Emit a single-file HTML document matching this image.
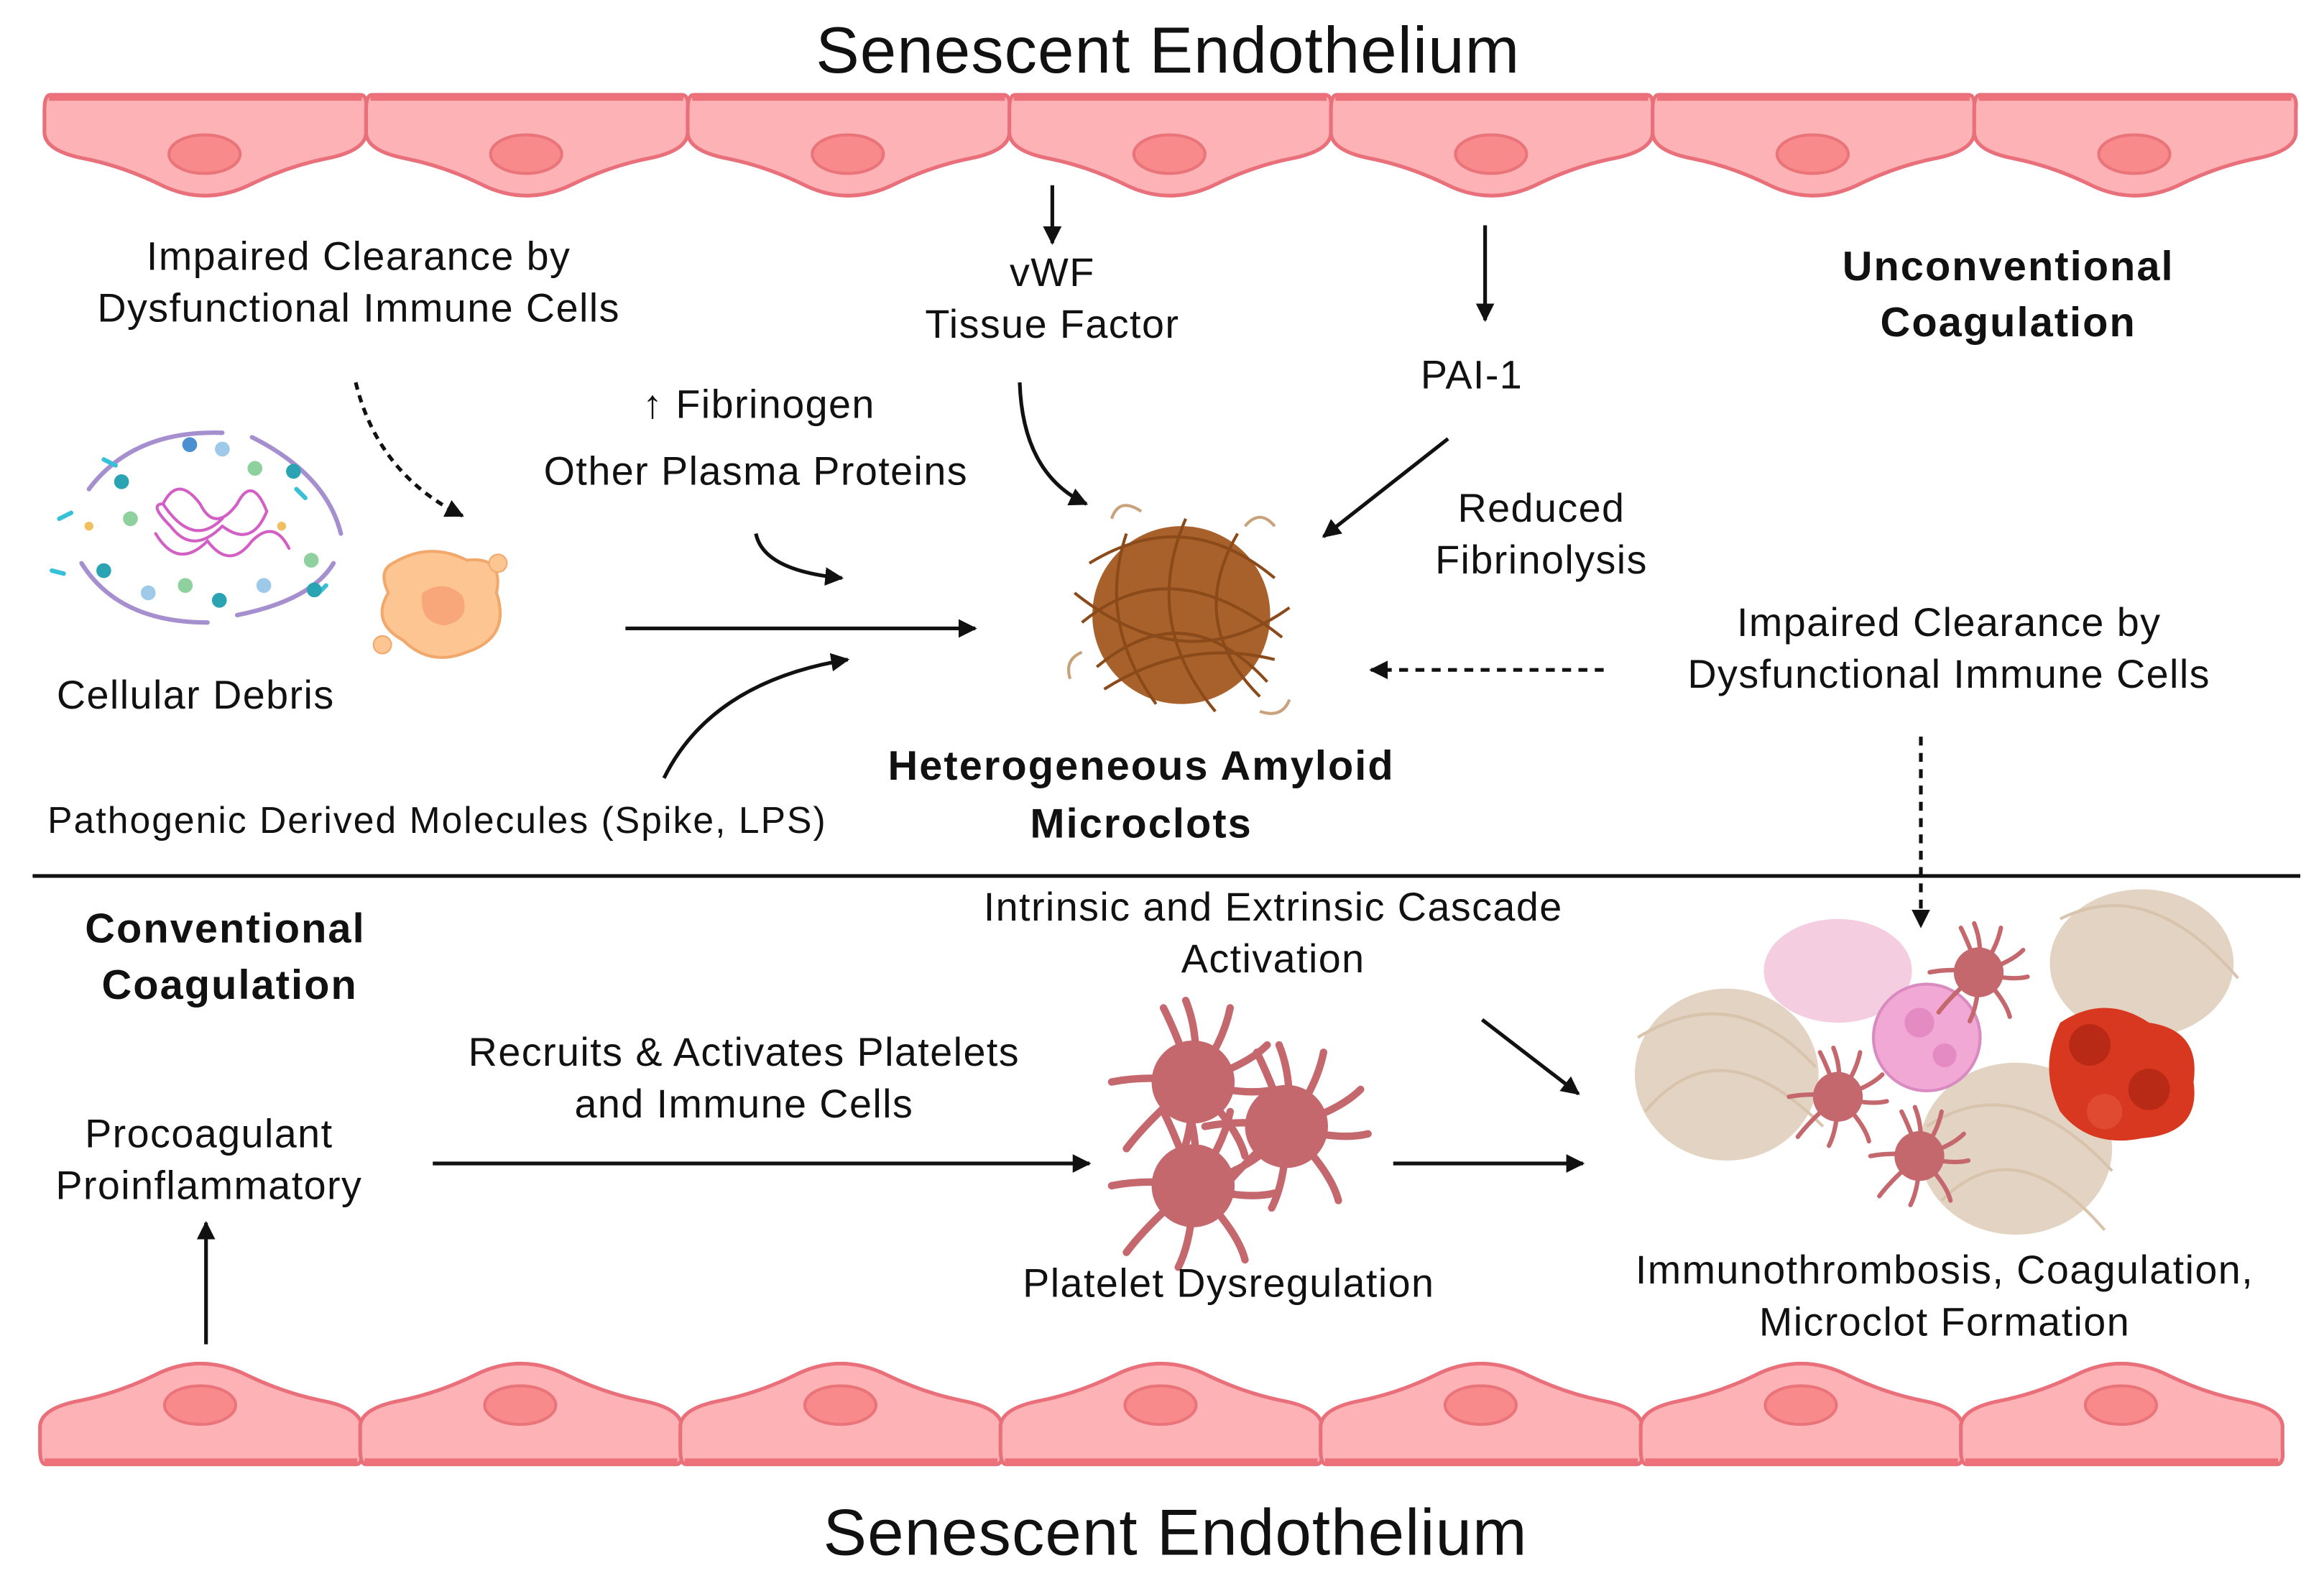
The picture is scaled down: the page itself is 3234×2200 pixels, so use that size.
<!DOCTYPE html>
<html><head><meta charset="utf-8"><style>
html,body{margin:0;padding:0;background:#fff;}
svg{display:block;}
text{font-family:"Liberation Sans","DejaVu Sans",sans-serif;fill:#111;}
</style></head><body>
<svg width="3234" height="2200" viewBox="0 0 1568 1066.7" preserveAspectRatio="none" xmlns="http://www.w3.org/2000/svg">
<defs>
<symbol id="cell" viewBox="0 0 217 78" width="217" height="78" overflow="visible">
<path d="M4,2 H213 Q218,2 217,12 V28 Q216,40 190,45 Q165,50 140,62 Q108,78 77,62 Q52,50 27,45 Q1,40 0,28 V12 Q0,2 4,2 Z" fill="#fdb3b6" stroke="#e9707a" stroke-width="2.5"/>
<line x1="3" y1="4" x2="214" y2="4" stroke="#ec717b" stroke-width="4"/>
<ellipse cx="108" cy="42" rx="24" ry="13" fill="#f98a8c" stroke="#e97479" stroke-width="2"/>
</symbol>
<symbol id="plt" viewBox="-60 -60 120 120" width="120" height="120" overflow="visible">
<g stroke="#c4686e" stroke-width="5" stroke-linecap="round" fill="none">
<path d="M0,0 Q-10,-30 -20,-50"/><path d="M0,0 Q5,-30 -5,-55"/><path d="M0,0 Q20,-25 25,-50"/>
<path d="M0,0 Q35,-10 50,-25"/><path d="M0,0 Q35,10 55,5"/><path d="M0,0 Q30,30 35,50"/>
<path d="M0,0 Q0,35 -10,55"/><path d="M0,0 Q-30,25 -45,45"/><path d="M0,0 Q-30,-5 -55,0"/>
</g>
<circle r="28" fill="#c4686e"/>
</symbol>
<marker id="ah" viewBox="0 0 10 10" refX="9" refY="5" markerWidth="5" markerHeight="5" orient="auto"><path d="M0,0 L10,5 L0,10 Z" fill="#111"/></marker>
</defs>

<use href="#cell" x="30" y="62"/><use href="#cell" x="247" y="62"/><use href="#cell" x="464" y="62"/><use href="#cell" x="681" y="62"/><use href="#cell" x="898" y="62"/><use href="#cell" x="1115" y="62"/><use href="#cell" x="1332" y="62"/>
<g transform="translate(0,1915) scale(1,-1)">
<use href="#cell" x="27" y="925"/><use href="#cell" x="243" y="925"/><use href="#cell" x="459" y="925"/><use href="#cell" x="675" y="925"/><use href="#cell" x="891" y="925"/><use href="#cell" x="1107" y="925"/><use href="#cell" x="1323" y="925"/>
</g>

<line x1="22" y1="591" x2="1552" y2="591" stroke="#111" stroke-width="2.5"/>

<g fill="none" stroke-width="3" stroke-linecap="round">
<path d="M60,330 Q90,290 150,292" stroke="#a58fcf"/><path d="M170,295 Q220,320 230,360" stroke="#a58fcf"/>
<path d="M55,380 Q80,420 140,420" stroke="#a58fcf"/><path d="M160,415 Q210,405 225,380" stroke="#a58fcf"/>
<path d="M110,340 q10,-20 25,0 q10,20 25,0 q10,-20 20,5 q-10,25 -30,10 q-20,20 -35,0 q-15,-15 -5,-15 q20,30 40,10" stroke="#d35fc5" stroke-width="2"/>
<path d="M105,360 q15,25 35,5 q15,20 30,0 q15,-15 25,5" stroke="#d35fc5" stroke-width="2"/>
<path d="M40,350 l8,-4" stroke="#38c0d8"/><path d="M70,310 l8,4" stroke="#38c0d8"/><path d="M200,330 l6,6" stroke="#38c0d8"/><path d="M220,395 l-6,6" stroke="#38c0d8"/><path d="M35,385 l8,2" stroke="#38c0d8"/>
</g>
<g>
<circle cx="82" cy="325" r="5" fill="#2aa3b3"/><circle cx="128" cy="300" r="5" fill="#4a8fd0"/><circle cx="150" cy="303" r="5" fill="#9ec9e8"/><circle cx="172" cy="316" r="5" fill="#8fd19e"/><circle cx="198" cy="318" r="5" fill="#2aa3b3"/><circle cx="88" cy="350" r="5" fill="#8fd19e"/><circle cx="70" cy="385" r="5" fill="#2aa3b3"/><circle cx="100" cy="400" r="5" fill="#9ec9e8"/><circle cx="125" cy="395" r="5" fill="#8fd19e"/><circle cx="148" cy="405" r="5" fill="#2aa3b3"/><circle cx="178" cy="395" r="5" fill="#9ec9e8"/><circle cx="210" cy="378" r="5" fill="#8fd19e"/><circle cx="212" cy="398" r="5" fill="#2aa3b3"/><circle cx="60" cy="355" r="3" fill="#f0c060"/><circle cx="190" cy="355" r="3" fill="#f0c060"/>
</g>
<path d="M265,380 Q290,365 315,378 Q340,375 335,400 Q345,430 315,440 Q290,450 272,432 Q250,420 262,400 Q255,385 265,380 Z" fill="#fcc592" stroke="#f2a86b" stroke-width="2"/>
<path d="M285,400 Q300,390 312,402 Q318,418 300,422 Q282,420 285,400 Z" fill="#f7a77a"/>
<circle cx="336" cy="380" r="6" fill="#fcc592" stroke="#f2a86b"/><circle cx="258" cy="435" r="6" fill="#fcc592" stroke="#f2a86b"/>

<g fill="none" stroke="#8b4a1a" stroke-width="2">
<circle cx="797" cy="415" r="60" fill="#a8612a" stroke="none"/>
<path d="M735,380 Q800,340 860,390"/><path d="M730,420 Q790,370 865,430"/><path d="M740,450 Q800,400 855,460"/><path d="M760,360 Q740,420 780,475"/><path d="M800,350 Q770,420 820,480"/><path d="M835,360 Q800,420 850,470"/><path d="M725,400 Q800,460 870,410"/><path d="M745,465 Q800,430 860,445"/>
<path d="M770,345 q-15,-10 -20,5" stroke="#c9a17a"/><path d="M840,355 q10,-12 20,0" stroke="#c9a17a"/><path d="M730,440 q-12,5 -8,18" stroke="#c9a17a"/><path d="M850,480 q15,5 20,-8" stroke="#c9a17a"/>
</g>

<g fill="none" stroke="#d8c3ad" stroke-width="2">
<ellipse cx="1165" cy="725" rx="62" ry="58" fill="#e3d3c2" stroke="none"/>
<ellipse cx="1445" cy="650" rx="62" ry="50" fill="#e3d3c2" stroke="none"/>
<ellipse cx="1360" cy="775" rx="65" ry="58" fill="#e3d3c2" stroke="none"/>
<path d="M1105,700 Q1170,660 1225,720"/><path d="M1110,750 Q1160,690 1230,760"/><path d="M1390,620 Q1450,590 1510,660"/><path d="M1300,760 Q1360,720 1425,790"/><path d="M1310,810 Q1360,760 1420,830"/>
</g>
<ellipse cx="1240" cy="655" rx="50" ry="35" fill="#f3c1d9" opacity="0.8"/>
<circle cx="1300" cy="700" r="36" fill="#f2a8d4" stroke="#d98ac0" stroke-width="2"/>
<circle cx="1295" cy="690" r="10" fill="#e38bc2"/><circle cx="1312" cy="712" r="8" fill="#e38bc2"/>
<path d="M1390,690 Q1420,670 1450,690 Q1485,695 1480,730 Q1485,765 1445,768 Q1410,775 1390,750 Q1375,720 1390,690 Z" fill="#d8381f"/>
<circle cx="1410" cy="705" r="14" fill="#b82a15"/><circle cx="1450" cy="735" r="14" fill="#b82a15"/><circle cx="1420" cy="750" r="12" fill="#e04a30"/>
<use href="#plt" x="1275" y="600" transform="translate(1335,650) scale(0.6) translate(-1335,-650)"/>
<use href="#plt" x="1180" y="680" transform="translate(1240,740) scale(0.6) translate(-1240,-740)"/>
<use href="#plt" x="1235" y="720" transform="translate(1295,780) scale(0.6) translate(-1295,-780)"/>

<use href="#plt" x="745" y="670"/>
<use href="#plt" x="808" y="700"/>
<use href="#plt" x="745" y="740"/>

<g stroke="#111" stroke-width="2.5" fill="none" marker-end="url(#ah)">
<line x1="710" y1="125" x2="710" y2="164"/>
<line x1="1002" y1="152" x2="1002" y2="216"/>
<path d="M240,258 Q255,320 312,348" stroke-dasharray="5,4"/>
<path d="M688,258 Q690,320 733,340"/>
<line x1="977" y1="296" x2="893" y2="362"/>
<path d="M510,360 Q515,385 568,390"/>
<line x1="422" y1="424" x2="658" y2="424"/>
<path d="M448,525 Q480,460 572,445"/>
<line x1="1082" y1="452" x2="925" y2="452" stroke-dasharray="6,5"/>
<line x1="1296" y1="497" x2="1296" y2="625" stroke-dasharray="6,5"/>
<line x1="1000" y1="688" x2="1065" y2="738"/>
<line x1="292" y1="785" x2="735" y2="785"/>
<line x1="940" y1="785" x2="1068" y2="785"/>
<line x1="139" y1="907" x2="139" y2="825"/>
</g>

<g text-anchor="middle" font-size="27" letter-spacing="0.7">
<text x="788" y="49" font-size="44" letter-spacing="0.5">Senescent Endothelium</text>
<text x="242" y="182">Impaired Clearance by</text>
<text x="242" y="217">Dysfunctional Immune Cells</text>
<text x="710" y="193">vWF</text>
<text x="710" y="228">Tissue Factor</text>
<text x="1355" y="189" font-weight="bold" font-size="28" letter-spacing="1">Unconventional</text>
<text x="1355" y="227" font-weight="bold" font-size="28" letter-spacing="1">Coagulation</text>
<text x="993" y="262">PAI-1</text>
<text x="512" y="282">↑ Fibrinogen</text>
<text x="510" y="327">Other Plasma Proteins</text>
<text x="1040" y="352">Reduced</text>
<text x="1040" y="387">Fibrinolysis</text>
<text x="1315" y="429">Impaired Clearance by</text>
<text x="1315" y="464">Dysfunctional Immune Cells</text>
<text x="132" y="478">Cellular Debris</text>
<text x="295" y="562" font-size="25" letter-spacing="1">Pathogenic Derived Molecules (Spike, LPS)</text>
<text x="770" y="526" font-weight="bold" font-size="28" letter-spacing="1">Heterogeneous Amyloid</text>
<text x="770" y="565" font-weight="bold" font-size="28" letter-spacing="1">Microclots</text>
<text x="152" y="636" font-weight="bold" font-size="28" letter-spacing="1">Conventional</text>
<text x="155" y="674" font-weight="bold" font-size="28" letter-spacing="1">Coagulation</text>
<text x="859" y="621">Intrinsic and Extrinsic Cascade</text>
<text x="859" y="656">Activation</text>
<text x="502" y="719">Recruits &amp; Activates Platelets</text>
<text x="502" y="754">and Immune Cells</text>
<text x="141" y="774">Procoagulant</text>
<text x="141" y="809">Proinflammatory</text>
<text x="829" y="875">Platelet Dysregulation</text>
<text x="1312" y="866">Immunothrombosis, Coagulation,</text>
<text x="1312" y="901">Microclot Formation</text>
<text x="793" y="1049" font-size="44" letter-spacing="0.5">Senescent Endothelium</text>
</g>
</svg>
</body></html>
